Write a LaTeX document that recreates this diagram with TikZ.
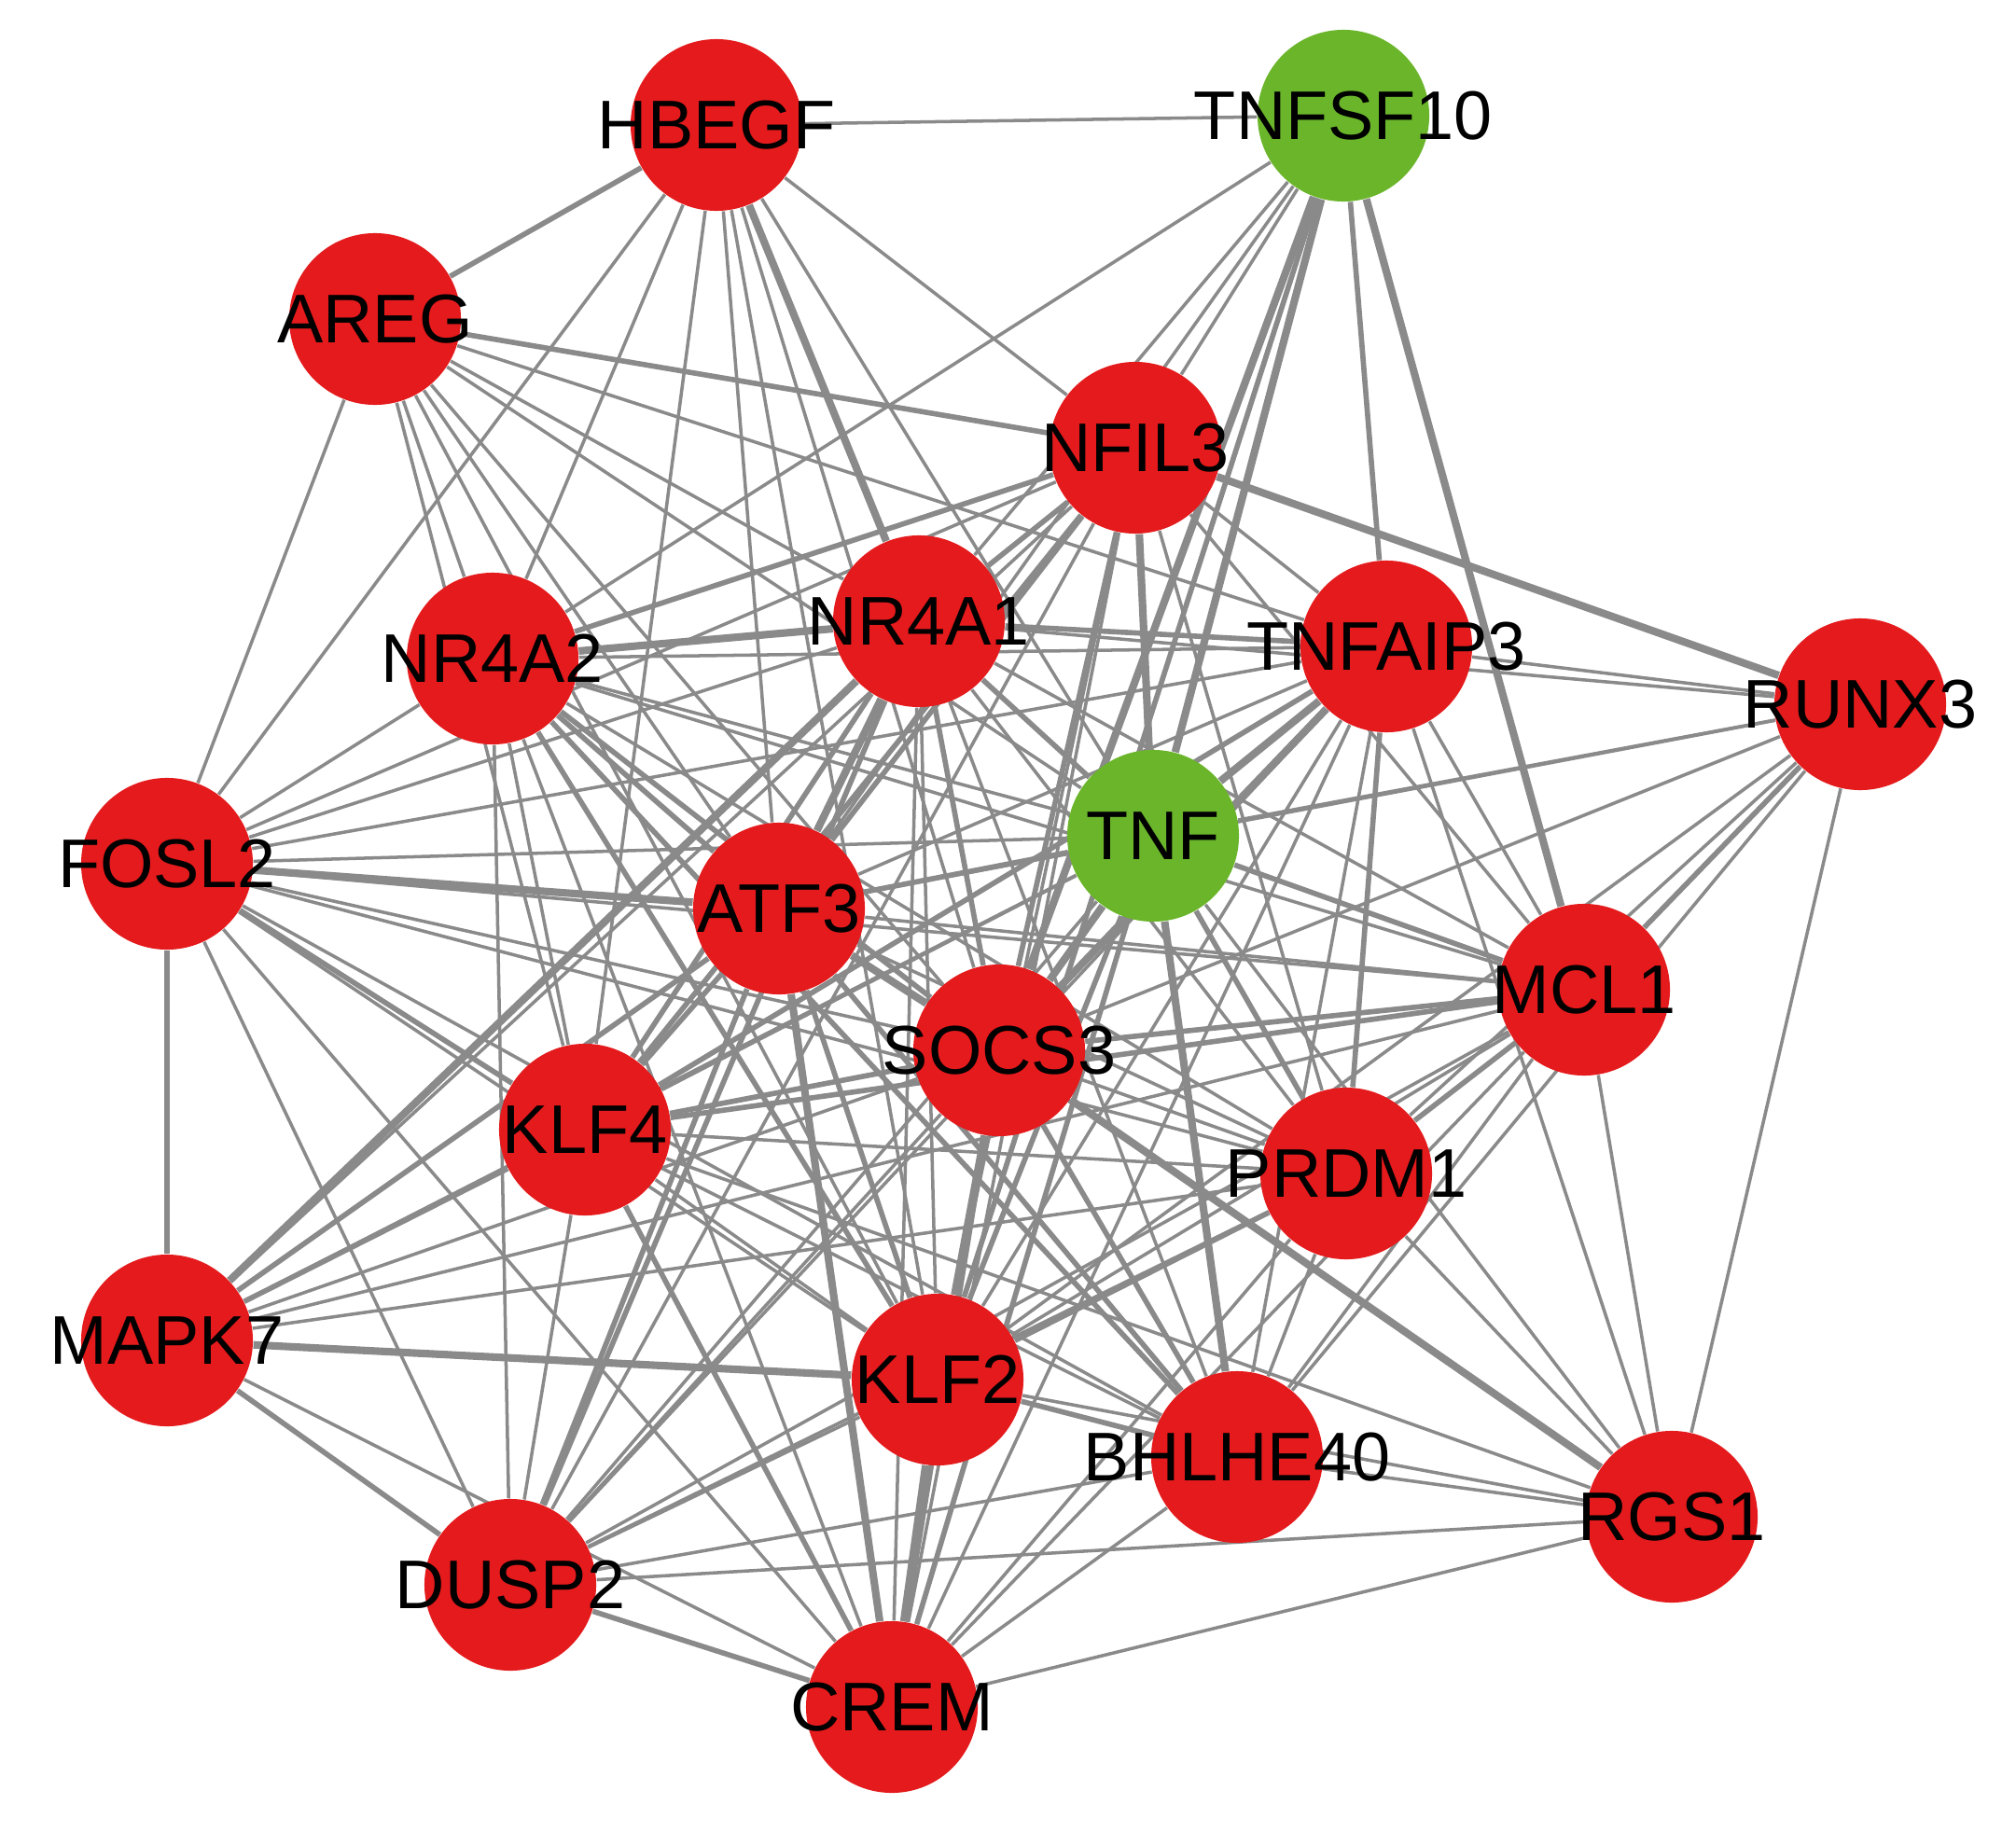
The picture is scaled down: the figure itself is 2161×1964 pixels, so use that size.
\documentclass[tikz,border=0pt]{standalone}
\usepackage{fontspec}
\setmainfont{Liberation Sans}
\pgfdeclarelayer{bg}
\pgfsetlayers{bg,main}
\definecolor{nred}{RGB}{228,26,28}
\definecolor{ngreen}{RGB}{106,181,42}
\definecolor{egray}{RGB}{138,138,138}
\tikzset{
  gene/.style={circle,draw=none,fill=nred,minimum size=1.84cm,inner sep=0pt},
  tgene/.style={gene,fill=ngreen},
  glabel/.style={font=\fontsize{21}{25}\selectfont,inner sep=0pt,text=black},
  et/.style={draw=egray,line width=1.0pt},
  em/.style={draw=egray,line width=1.6pt},
  ek/.style={draw=egray,line width=2.3pt}
}
\begin{document}
\begin{tikzpicture}[x=0.01cm,y=-0.01cm]
\useasboundingbox (0,0) rectangle (2161,1964);
% nodes
\node[gene]  (HB)  at (768,134)  {};
\node[tgene] (TS)  at (1440,124) {};
\node[gene]  (AR)  at (402,342)  {};
\node[gene]  (NF)  at (1217,480) {};
\node[gene]  (N2)  at (528,706)  {};
\node[gene]  (N1)  at (985,666)  {};
\node[gene]  (TA)  at (1486,693) {};
\node[gene]  (RX)  at (1994,755) {};
\node[tgene] (TNF) at (1236,896) {};
\node[gene]  (FO)  at (179,926)  {};
\node[gene]  (AT)  at (835,974)  {};
\node[gene]  (MC)  at (1698,1061) {};
\node[gene]  (SO)  at (1071,1126) {};
\node[gene]  (K4)  at (627,1211) {};
\node[gene]  (PR)  at (1443,1258) {};
\node[gene]  (MA)  at (179,1437) {};
\node[gene]  (K2)  at (1005,1479) {};
\node[gene]  (BH)  at (1326,1562) {};
\node[gene]  (RG)  at (1792,1626) {};
\node[gene]  (DU)  at (547,1699) {};
\node[gene]  (CR)  at (956,1830) {};
% labels
\node[glabel] (HBl)  at (HB)  {HBEGF};
\node[glabel] (TSl)  at (TS)  {TNFSF10};
\node[glabel] (ARl)  at (AR)  {AREG};
\node[glabel] (NFl)  at (NF)  {NFIL3};
\node[glabel] (N2l)  at (N2)  {NR4A2};
\node[glabel] (N1l)  at (N1)  {NR4A1};
\node[glabel] (TAl)  at (TA)  {TNFAIP3};
\node[glabel] (RXl)  at (RX)  {RUNX3};
\node[glabel] (TNFl) at (TNF) {TNF};
\node[glabel] (FOl)  at (FO)  {FOSL2};
\node[glabel] (ATl)  at (AT)  {ATF3};
\node[glabel] (MCl)  at (MC)  {MCL1};
\node[glabel] (SOl)  at (SO)  {SOCS3};
\node[glabel] (K4l)  at (K4)  {KLF4};
\node[glabel] (PRl)  at (PR)  {PRDM1};
\node[glabel] (MAl)  at (MA)  {MAPK7};
\node[glabel] (K2l)  at (K2)  {KLF2};
\node[glabel] (BHl)  at (BH)  {BHLHE40};
\node[glabel] (RGl)  at (RG)  {RGS1};
\node[glabel] (DUl)  at (DU)  {DUSP2};
\node[glabel] (CRl)  at (CR)  {CREM};
% edges
\begin{pgfonlayer}{bg}
\fill[white] (0,0) rectangle (2161,1964);
% HBEGF
\path[et] (HB) -- (TS);  \path[em] (HB) -- (AR);  \path[et] (HB) -- (FO);
\path[et] (HB) -- (N2);  \path[et] (HB) -- (NF);  \path[et] (HB) -- (K4);
\path[et] (HB) -- (AT);  \path[et] (HB) -- (SO);  \path[ek] (HB) -- (N1);
\path[et] (HB) -- (TNF); \path[et] (HB) -- (K2);
% TNFSF10
\path[et] (TS) -- (N2);  \path[et] (TS) -- (N1);  \path[et] (TS) -- (AT);
\path[et] (TS) -- (NF);  \path[ek] (TS) -- (TNF); \path[ek] (TS) -- (SO);
\path[em] (TS) -- (K2);  \path[em] (TS) -- (TA);  \path[ek] (TS) -- (MC);
% AREG
\path[et] (AR) -- (FO);  \path[et] (AR) -- (N2);  \path[et] (AR) -- (K4);
\path[em] (AR) -- (NF);  \path[et] (AR) -- (TA);  \path[et] (AR) -- (TNF);
\path[et] (AR) -- (N1);  \path[et] (AR) -- (SO);  \path[et] (AR) -- (AT);
\path[et] (AR) -- (K2);
% NFIL3
\path[ek] (NF) -- (RX);  \path[et] (NF) -- (TA);  \path[et] (NF) -- (MC);
\path[et] (NF) -- (PR);  \path[ek] (NF) -- (TNF); \path[em] (NF) -- (SO);
\path[et] (NF) -- (K2);  \path[em] (NF) -- (AT);  \path[em] (NF) -- (N1);
\path[em] (NF) -- (N2);  \path[et] (NF) -- (FO);  \path[em] (NF) -- (K4);
\path[et] (NF) -- (MA);  \path[et] (NF) -- (DU);  \path[et] (NF) -- (CR);
% NR4A2
\path[ek] (N2) -- (N1);  \path[et] (N2) -- (TA);  \path[et] (N2) -- (TNF);
\path[et] (N2) -- (FO);  \path[em] (N2) -- (AT);  \path[em] (N2) -- (SO);
\path[et] (N2) -- (K4);  \path[em] (N2) -- (K2);  \path[et] (N2) -- (DU);
\path[et] (N2) -- (CR);  \path[et] (N2) -- (MC);  \path[em] (N2) -- (BH);
\path[et] (N2) -- (PR);
% NR4A1
\path[em] (N1) -- (TA);  \path[et] (N1) -- (RX);  \path[em] (N1) -- (TNF);
\path[et] (N1) -- (FO);  \path[ek] (N1) -- (AT);  \path[em] (N1) -- (SO);
\path[em] (N1) -- (K4);  \path[ek] (N1) -- (MA);  \path[et] (N1) -- (K2);
\path[em] (N1) -- (DU);  \path[et] (N1) -- (CR);  \path[et] (N1) -- (MC);
\path[et] (N1) -- (PR);  \path[et] (N1) -- (BH);
% TNFAIP3
\path[et] (TA) -- (RX);  \path[ek] (TA) -- (TNF); \path[et] (TA) -- (FO);
\path[et] (TA) -- (AT);  \path[ek] (TA) -- (SO);  \path[em] (TA) -- (K4);
\path[et] (TA) -- (K2);  \path[et] (TA) -- (MC);  \path[em] (TA) -- (PR);
\path[et] (TA) -- (BH);  \path[et] (TA) -- (RG);  \path[et] (TA) -- (CR);
\path[et] (TA) -- (DU);
% RUNX3
\path[et] (RX) -- (TNF); \path[et] (RX) -- (SO);  \path[em] (RX) -- (MC);
\path[et] (RX) -- (PR);  \path[et] (RX) -- (K2);  \path[et] (RX) -- (BH);
\path[et] (RX) -- (RG);  \path[et] (RX) -- (AT);
% TNF
\path[et] (TNF) -- (FO); \path[em] (TNF) -- (AT); \path[ek] (TNF) -- (SO);
\path[et] (TNF) -- (K4); \path[et] (TNF) -- (MA); \path[em] (TNF) -- (K2);
\path[et] (TNF) -- (DU); \path[em] (TNF) -- (CR); \path[em] (TNF) -- (MC);
\path[em] (TNF) -- (PR); \path[ek] (TNF) -- (BH); \path[et] (TNF) -- (RG);
% FOSL2
\path[ek] (FO) -- (AT);  \path[et] (FO) -- (SO);  \path[et] (FO) -- (MC);
\path[em] (FO) -- (K4);  \path[et] (FO) -- (K2);  \path[em] (FO) -- (MA);
\path[et] (FO) -- (DU);  \path[et] (FO) -- (CR);  \path[et] (FO) -- (PR);
\path[et] (FO) -- (BH);
% ATF3
\path[ek] (AT) -- (SO);  \path[em] (AT) -- (K4);  \path[em] (AT) -- (MA);
\path[em] (AT) -- (K2);  \path[em] (AT) -- (DU);  \path[ek] (AT) -- (CR);
\path[et] (AT) -- (MC);  \path[et] (AT) -- (PR);  \path[em] (AT) -- (BH);
% MCL1
\path[em] (MC) -- (SO);  \path[em] (MC) -- (K4);  \path[et] (MC) -- (K2);
\path[em] (MC) -- (PR);  \path[et] (MC) -- (BH);  \path[et] (MC) -- (RG);
\path[et] (MC) -- (DU);  \path[et] (MC) -- (CR);  \path[et] (MC) -- (MA);
% SOCS3
\path[em] (SO) -- (K4);  \path[et] (SO) -- (MA);  \path[em] (SO) -- (K2);
\path[et] (SO) -- (DU);  \path[em] (SO) -- (CR);  \path[et] (SO) -- (PR);
\path[em] (SO) -- (BH);  \path[ek] (SO) -- (RG);
% KLF4
\path[em] (K4) -- (MA);  \path[et] (K4) -- (K2);  \path[et] (K4) -- (DU);
\path[em] (K4) -- (CR);  \path[et] (K4) -- (PR);  \path[et] (K4) -- (BH);
\path[et] (K4) -- (RG);
% PRDM1
\path[em] (PR) -- (K2);  \path[et] (PR) -- (BH);  \path[et] (PR) -- (RG);
\path[et] (PR) -- (CR);  \path[et] (PR) -- (DU);  \path[et] (PR) -- (MA);
% MAPK7
\path[ek] (MA) -- (K2);  \path[em] (MA) -- (DU);  \path[et] (MA) -- (CR);
% KLF2
\path[em] (K2) -- (BH);  \path[ek] (K2) -- (CR);  \path[et] (K2) -- (DU);
\path[et] (K2) -- (RG);
% BHLHE40, DUSP2, CREM
\path[et] (BH) -- (DU);  \path[et] (BH) -- (CR);  \path[et] (BH) -- (RG);
\path[em] (DU) -- (CR);  \path[et] (DU) -- (RG);  \path[et] (CR) -- (RG);
\end{pgfonlayer}
\end{tikzpicture}
\end{document}
